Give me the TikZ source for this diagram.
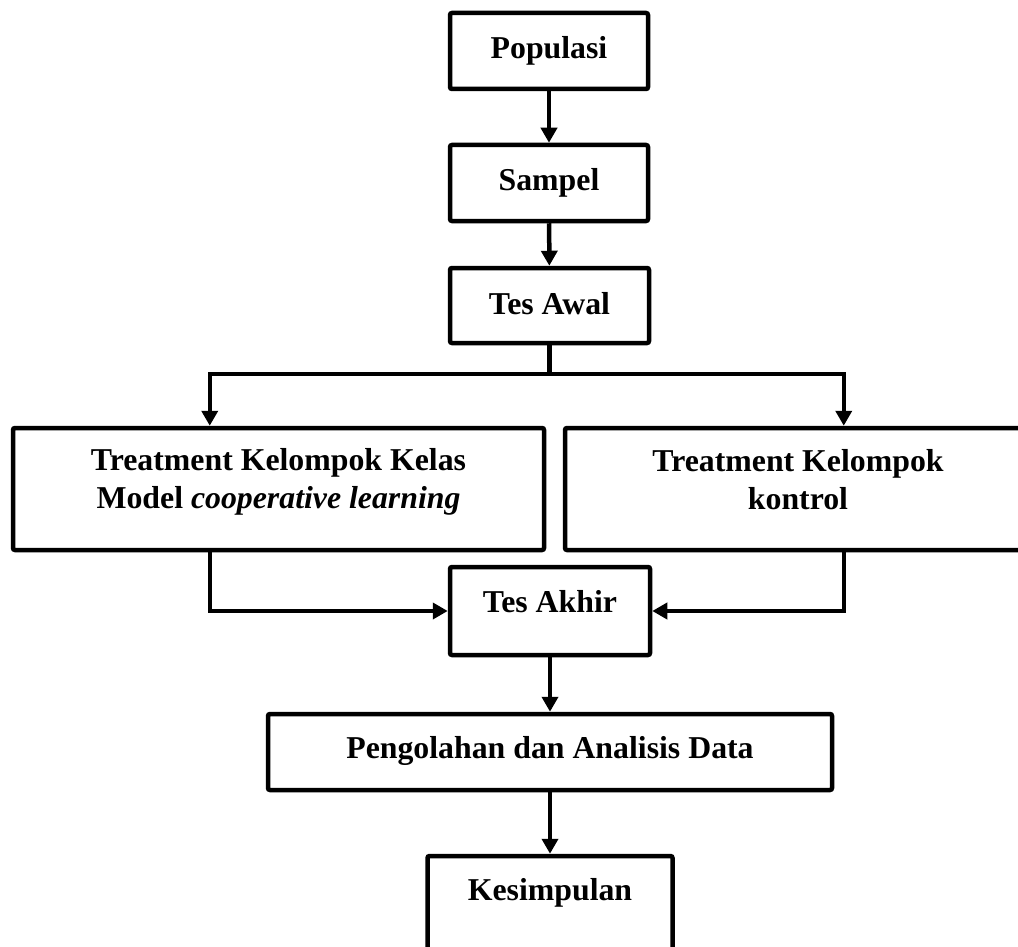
\documentclass[tikz,border=0pt]{standalone}
\usepackage{fontspec}
\setmainfont{Liberation Serif}
\usetikzlibrary{arrows.meta}
\tikzset{
	kotak/.style={draw,line width=2.25pt,rounded corners=1pt,inner sep=0pt,
		align=center,font=\fontsize{15.9}{19}\selectfont\bfseries},
	satu/.style={text height=10.8pt,text depth=#1},
	panah/.style={line width=2.25pt,-{Triangle[length=7.5pt,width=8pt]}},
	garis/.style={line width=2.25pt}
}

\begin{document}
\begin{tikzpicture}[x=0.5pt,y=-0.5pt]
	\useasboundingbox (0,0) rectangle (1018,947);
	\clip (0,0) rectangle (1018,947);
	\node[kotak,satu=3pt,minimum width=99pt,minimum height=38pt] (populasi) at (549,51) {Populasi};
	\node[kotak,satu=3pt,minimum width=99pt,minimum height=38pt] (sampel) at (549,183) {Sampel};
	\node[kotak,satu=1.5pt,minimum width=99.5pt,minimum height=37.5pt] (awal) at (549.5,305.5) {Tes Awal};
	\node[kotak,text depth=11pt,minimum width=265.5pt,minimum height=61pt] (kelas) at (278.5,489)
		{Treatment Kelompok Kelas\\Model \textit{cooperative learning}};
	\node[kotak,text depth=10pt,minimum width=233pt,minimum height=61pt] (kontrol) at (798,489)
		{Treatment Kelompok\\kontrol};
	\node[kotak,satu=9pt,minimum width=100pt,minimum height=44pt] (akhir) at (550,611) {Tes Akhir};
	\node[kotak,satu=4pt,minimum width=282pt,minimum height=38pt] (olah) at (550,752) {Pengolahan dan Analisis Data};
	\node[kotak,satu=21pt,minimum width=122.5pt,minimum height=55pt] (simpul) at (550,911) {Kesimpulan};
	\coordinate (cabang) at (549.5,374);

	\draw[panah] (populasi) -- (sampel);
	\draw[panah] (sampel) -- (awal);
	\draw[garis] (awal.south) -- (cabang);
	\draw[panah] (cabang) -| ([xshift=99.5pt]kelas.north west);
	\draw[panah] (cabang) -| ([xshift=140.5pt]kontrol.north west);
	\draw[panah] ([xshift=99.5pt]kelas.south west) |- (akhir.west);
	\draw[panah] ([xshift=140.5pt]kontrol.south west) |- (akhir.east);
	\draw[panah] (akhir) -- (olah);
	\draw[panah] (olah) -- (simpul);
\end{tikzpicture}
\end{document}
